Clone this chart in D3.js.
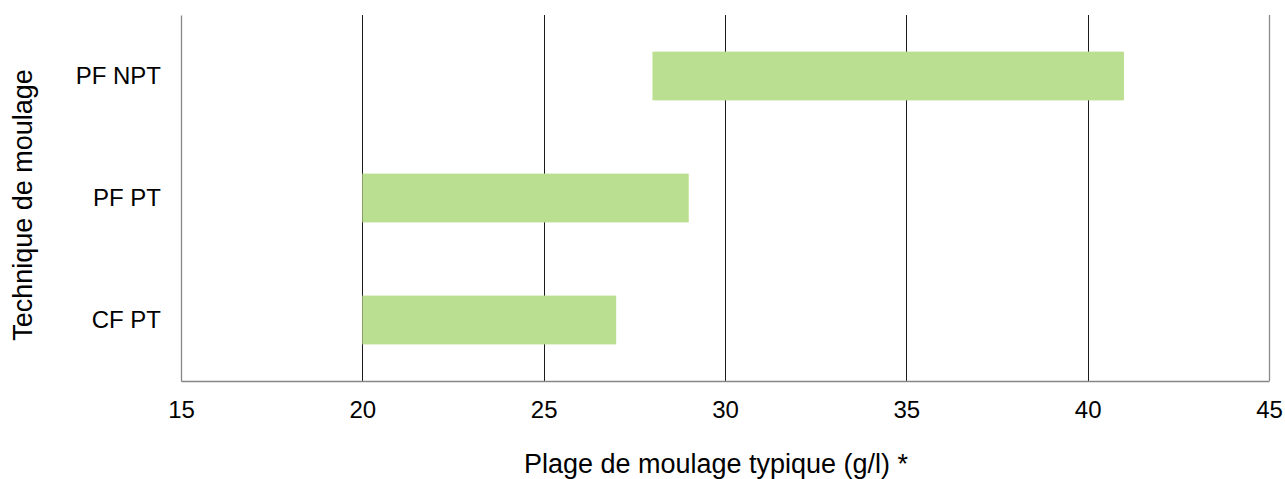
<!DOCTYPE html>
<html>
<head>
<meta charset="utf-8">
<script src="https://cdn.jsdelivr.net/npm/d3@7/dist/d3.min.js"></script>
<style>
  html, body { margin: 0; padding: 0; background: #ffffff; }
  svg { display: block; }
  text { font-family: "Liberation Sans", Arial, sans-serif; fill: #000; }
</style>
</head>
<body>
<svg id="chart" width="1285" height="479"></svg>
<script>
const categories = ["PF NPT", "PF PT", "CF PT"];
const rangeStart = [28, 20, 20];
const rangeEnd = [41, 29, 27];
const xTicks = [15, 20, 25, 30, 35, 40, 45];
const xTitle = "Plage de moulage typique (g/l) *";
const yTitle = "Technique de moulage";

const svg = d3.select("#chart");
const margin = { left: 181, right: 16, top: 15, bottom: 98 };
const W = 1285, H = 479;
const x = d3.scaleLinear().domain([15, 45]).range([margin.left, W - margin.right]);
const y = d3.scaleBand().domain(categories).range([margin.top, H - margin.bottom]).paddingInner(0.6).paddingOuter(0.3);

// gridlines
svg.append("g").selectAll("line").data(xTicks.filter(t => t !== 15 && t !== 45)).join("line")
  .attr("x1", d => Math.round(x(d)) + 0.5).attr("x2", d => Math.round(x(d)) + 0.5)
  .attr("y1", margin.top).attr("y2", H - margin.bottom)
  .attr("stroke", "#1a1a1a").attr("stroke-width", 1);

// right border
svg.append("line")
  .attr("x1", Math.round(x(45)) + 0.5).attr("x2", Math.round(x(45)) + 0.5)
  .attr("y1", margin.top).attr("y2", H - margin.bottom)
  .attr("stroke", "#8a8a8a").attr("stroke-width", 1.3);

// bars
const rows = categories.map((c, i) => ({ c, s: rangeStart[i], e: rangeEnd[i] }));
svg.append("g").selectAll("rect").data(rows).join("rect")
  .attr("x", d => x(d.s)).attr("width", d => x(d.e) - x(d.s))
  .attr("y", d => y(d.c)).attr("height", y.bandwidth())
  .attr("fill", "#bbdf90");

// x axis
const xAxis = svg.append("g").attr("transform", `translate(0,${H - margin.bottom})`)
  .call(d3.axisBottom(x).tickValues(xTicks).tickSize(0).tickPadding(20).tickFormat(d3.format("d")));
xAxis.select(".domain").attr("stroke", "#868686").attr("stroke-width", 1.3);
xAxis.selectAll("text").style("font-size", "24px").style("font-family", "Liberation Sans, Arial, sans-serif").attr("fill", "#000");

// y axis
const yAxis = svg.append("g").attr("transform", `translate(${margin.left},0)`)
  .call(d3.axisLeft(y).tickSize(0).tickPadding(20));
yAxis.select(".domain").attr("stroke", "#868686").attr("stroke-width", 1.3);
yAxis.selectAll("text").style("font-size", "24px").style("font-family", "Liberation Sans, Arial, sans-serif").attr("fill", "#000");

// titles
svg.append("text").attr("x", 716).attr("y", 473).attr("text-anchor", "middle")
  .style("font-size", "27px").text(xTitle);
svg.append("text").attr("transform", "translate(32,205) rotate(-90)").attr("text-anchor", "middle")
  .style("font-size", "27px").text(yTitle);
</script>
</body>
</html>
